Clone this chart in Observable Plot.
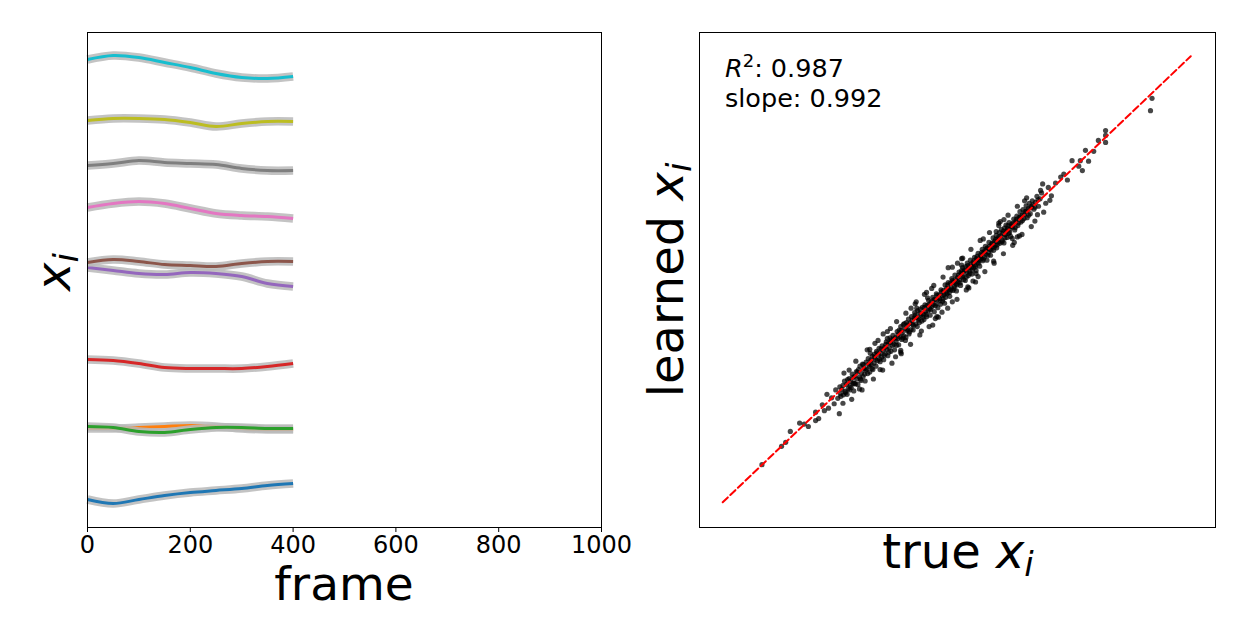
<!DOCTYPE html>
<html>
<head>
<meta charset="utf-8">
<script src="https://cdn.jsdelivr.net/npm/d3@7"></script>
<script src="https://cdn.jsdelivr.net/npm/@observablehq/plot@0.6"></script>
<style>
  html, body { margin: 0; padding: 0; background: #fff; }
  #wrap { position: relative; width: 1247px; height: 644px; overflow: hidden; background: #fff; font-family: "DejaVu Sans", sans-serif; }
  #wrap svg { position: absolute; top: 0; }
</style>
</head>
<body>
<div id="wrap"></div>
<script>
// ---------- Left panel data: 10 traces vs frame ----------
const frames = [0, 50, 100, 150, 200, 250, 300, 350, 400];
const xTicks = [0, 200, 400, 600, 800, 1000];

const blueVals   = [28, 24, 28, 32, 35, 37, 39, 42, 44];
const orangeVals = [99, 99, 100, 101, 102, 101, 99, 98, 98];
const greenVals  = [101, 100, 96, 95, 98, 100, 100, 99, 99];
const redVals    = [168, 167, 164, 160, 159, 159, 159, 161, 164];
const purpleVals = [260, 257, 254, 253, 255, 254, 251, 244, 241];
const brownVals  = [265, 268, 266, 263, 262, 261, 264, 266, 266];
const pinkVals   = [320, 324, 326, 324, 319, 314, 312, 311, 309];
const grayVals   = [362, 364, 367, 365, 364, 363, 359, 357, 357];
const oliveVals  = [407, 409, 409, 408, 405, 401, 404, 406, 406];
const cyanVals   = [468, 472, 470, 465, 460, 454, 450, 449, 451];

const seriesColors = ["#1f77b4", "#ff7f0e", "#2ca02c", "#d62728", "#9467bd",
                      "#8c564b", "#e377c2", "#7f7f7f", "#bcbd22", "#17becf"];
const seriesValues = [blueVals, orangeVals, greenVals, redVals, purpleVals,
                      brownVals, pinkVals, grayVals, oliveVals, cyanVals];

// ---------- Right panel data: learned vs true ----------
const fitLine = [[4.5, 5.1], [95.2, 95.2]];
const annotR2 = "0.987";
const annotSlope = "0.992";

const scatterPoints = [
  [12.1,12.7],[16.7,17.2],[17.6,19.4],[19.4,21.1],[21.1,20.4],[22.5,21.6],[22.5,23.3],[27.1,23.0],[27.8,25.1],[23.8,24.8],
  [24.7,26.9],[15.9,16.4],[20.3,20.9],[23.1,22.0],[24.2,23.6],[25.0,24.1],[25.6,26.2],[26.1,25.0],[26.4,27.8],[26.8,26.1],
  [27.2,28.4],[27.4,26.5],[27.6,27.9],[27.9,26.8],[28.1,29.6],[28.3,27.2],[28.5,28.9],[28.6,26.9],[28.8,28.0],[29.0,30.1],
  [29.1,27.8],[29.3,29.5],[29.4,28.3],[29.6,31.0],[29.8,29.2],[29.9,27.6],[30.1,30.6],[30.2,29.0],[30.4,31.5],[30.5,30.0],
  [30.7,28.9],[30.8,31.9],[31.0,30.4],[31.1,32.6],[31.3,29.7],[31.4,31.2],[31.6,33.0],[31.7,30.5],[31.9,32.1],[32.0,31.0],
  [32.1,29.6],[32.3,33.4],[32.4,32.0],[32.6,31.1],[32.7,34.1],[32.9,32.6],[33.0,31.4],[33.2,33.8],[33.3,32.9],[33.5,34.6],
  [33.6,31.9],[33.8,33.2],[33.9,35.0],[34.1,34.0],[34.2,32.6],[34.4,35.3],[34.5,33.7],[34.7,34.9],[34.8,36.2],[35.0,33.5],
  [35.1,35.2],[35.3,34.4],[35.4,36.7],[35.6,35.8],[35.7,33.9],[35.9,36.4],[36.0,35.1],[36.2,37.5],[36.3,36.0],[36.5,34.7],
  [36.6,37.2],[36.8,36.3],[36.9,38.3],[37.1,35.6],[37.2,37.9],[37.4,36.8],[37.5,38.8],[37.7,37.0],[37.8,35.9],[38.0,38.4],
  [38.1,37.6],[38.3,39.6],[38.4,38.2],[38.6,36.9],[38.7,39.9],[38.9,38.5],[39.0,40.6],[39.2,38.0],[39.3,39.4],[39.5,41.0],
  [39.6,38.7],[39.8,40.2],[39.9,37.8],[40.1,41.4],[40.2,39.8],[40.4,40.9],[40.5,42.1],[40.7,39.5],[40.8,41.3],[41.0,40.0],
  [41.1,42.6],[41.3,41.0],[41.4,39.9],[41.6,42.3],[41.7,43.4],[41.9,41.1],[42.0,42.5],[42.2,40.6],[42.3,43.8],[42.5,42.2],
  [42.6,41.4],[42.8,44.1],[42.9,42.9],[43.1,41.7],[43.2,44.5],[43.4,43.1],[43.5,42.0],[43.7,45.0],[43.8,43.6],[44.0,42.6],
  [44.1,44.9],[44.3,43.8],[44.4,45.9],[44.6,44.2],[44.7,42.9],[44.9,45.6],[45.0,44.6],[45.2,46.5],[45.3,45.0],[45.5,43.6],
  [45.6,46.1],[45.8,45.2],[45.9,47.2],[46.1,46.0],[46.2,44.4],[46.4,47.0],[46.5,46.3],[46.7,45.1],[46.8,48.0],[47.0,46.8],
  [47.1,45.7],[47.3,47.9],[47.4,47.0],[47.6,49.0],[47.7,46.5],[47.9,48.3],[48.0,47.2],[48.2,49.5],[48.3,48.1],[48.5,46.7],
  [48.6,49.3],[48.8,48.4],[48.9,50.3],[49.1,47.9],[49.2,49.6],[49.4,48.7],[49.5,51.0],[49.7,49.2],[49.8,47.8],[50.0,50.5],
  [50.1,49.6],[50.3,51.6],[50.4,50.0],[50.6,48.9],[50.7,51.4],[50.9,50.6],[51.0,52.5],[51.2,50.1],[51.3,51.8],[51.5,49.9],
  [51.6,52.7],[51.8,51.5],[51.9,53.4],[52.1,50.9],[52.2,52.4],[52.4,51.3],[52.5,54.0],[52.7,52.6],[52.8,51.2],[53.0,53.5],
  [53.1,52.5],[53.3,54.6],[53.4,53.0],[53.6,51.9],[53.7,54.3],[53.9,53.6],[54.0,55.4],[54.2,54.0],[54.3,52.8],[54.5,55.1],
  [54.6,54.3],[54.8,56.2],[54.9,53.9],[55.1,55.6],[55.2,54.6],[55.4,56.8],[55.5,55.2],[55.7,54.0],[55.8,56.5],[56.0,55.6],
  [56.1,57.6],[56.3,56.2],[56.4,55.0],[56.6,57.3],[56.7,56.7],[56.9,58.5],[57.0,56.0],[57.2,57.8],[57.3,57.0],[57.5,59.0],
  [57.6,56.5],[57.8,58.3],[57.9,57.7],[58.1,59.6],[58.2,57.4],[58.4,58.9],[58.5,60.2],[58.7,58.0],[58.8,59.4],[59.0,57.5],
  [59.1,60.5],[59.3,59.2],[59.4,61.1],[59.6,58.6],[59.7,60.4],[59.9,59.4],[60.0,61.6],[60.2,60.3],[60.3,58.8],[60.5,61.3],
  [60.7,60.7],[60.9,62.3],[61.1,60.1],[61.3,61.8],[61.5,62.9],[61.7,61.0],[61.9,62.6],[62.1,63.8],[62.3,61.7],[62.5,63.1],
  [62.7,64.2],[62.9,62.4],[63.1,63.8],[63.3,65.0],[63.5,62.6],[63.7,64.4],[63.9,65.5],[64.1,63.4],[64.3,64.9],[64.5,66.0],
  [64.8,64.3],[65.1,65.7],[65.4,66.9],[65.7,64.9],[66.0,66.4],[66.3,67.6],[65.5,63.2],[61.6,58.7],[58.3,61.8],[45.2,40.9],
  [66.7,63.7],[67.1,65.5],[66.1,68.1],[67.6,68.7],[69.0,69.6],[70.6,71.4],[71.3,70.2],[72.2,74.1],[73.8,74.1],[74.2,72.1],
  [73.5,73.0],[75.4,74.0],[74.8,76.2],[76.4,76.0],[77.3,78.2],[78.7,77.8],[78.7,79.2],[78.7,80.2],[87.7,86.7],[87.4,84.2],
  [68.2,67.0],[70.0,70.8],[67.9,66.1],[52.2,48.4],[39.0,35.4],[45.7,42.2],[48.2,52.5],[35.6,39.1],
  [27.3,27.0],[27.8,28.7],[28.2,27.5],[28.7,29.9],[29.2,28.6],[29.7,30.3],[30.0,29.1],[30.6,31.4],[31.2,30.0],[31.8,32.9],
  [32.2,31.8],[32.8,33.0],[33.4,32.1],[33.9,34.4],[34.3,35.6],[34.9,34.0],[35.2,36.1],[35.8,34.8],[36.1,37.0],[36.7,35.4],
  [37.0,37.4],[37.6,38.1],[38.2,36.8],[38.5,39.0],[39.1,39.8],[39.4,38.3],[39.7,41.2],[40.3,40.0],[40.6,39.1],[41.2,41.8],
  [41.5,40.8],[41.8,42.9],[42.4,41.9],[42.7,43.3],[43.3,42.5],[43.6,44.4],[43.9,43.0],[44.5,45.1],[44.8,44.0],[45.4,46.0],
  [45.7,44.8],[46.0,46.9],[46.6,45.8],[46.9,47.6],[47.2,46.2],[47.8,47.4],[48.1,49.0],[48.4,47.5],[48.7,48.0],[49.0,49.9],
  [49.3,48.2],[49.6,50.1],[49.9,49.0],[50.2,51.0],[50.5,49.4],[50.8,51.9],[51.1,50.8],[51.4,52.0],[51.7,50.6],[52.0,52.9],
  [52.3,51.8],[52.6,53.2],[52.9,52.0],[53.2,53.9],[53.5,52.7],[53.8,54.8],[54.1,53.4],[54.4,54.6],[54.7,55.6],[55.0,54.2],
  [55.3,55.9],[55.6,56.3],[55.9,55.0],[56.2,56.8],[56.5,56.0],[56.8,57.5],[57.1,56.6],[57.4,58.2],[57.7,57.1],[58.0,58.7],
  [58.6,57.7],[58.9,59.9],[59.2,58.5],[59.5,60.0],[59.8,61.0],[60.1,59.6],[60.4,60.9],[60.8,61.5],[61.2,60.6],[61.4,62.2],
  [61.8,61.5],[62.2,62.8],[62.6,62.0],[63.0,63.3],[63.4,64.0],[63.8,63.1],[64.2,64.6],[64.6,65.2],[65.0,64.7],[65.6,66.2],
  [36.4,38.2],[40.0,38.4],[44.2,46.4],[47.5,45.3],[50.8,53.0],[53.6,51.3],[57.5,59.8],[60.6,58.4],[42.1,44.3],[33.1,35.2],
  [28.0,31.2],[29.5,25.9],[30.3,33.6],[31.5,27.8],[32.5,35.9],[33.7,30.0],[34.6,37.8],[35.5,31.8],[36.4,39.6],[37.3,33.2],
  [38.2,41.6],[39.1,35.1],[40.0,43.3],[40.9,37.0],[41.8,45.2],[42.7,38.9],[43.6,47.1],[44.5,40.6],[45.4,48.9],[46.3,42.5],
  [47.2,50.6],[48.1,44.3],[49.0,52.6],[49.9,46.1],[50.8,54.3],[51.7,48.0],[52.6,56.2],[53.5,49.6],[54.4,58.0],[55.3,51.7],
  [56.2,59.6],[57.1,53.4],[58.0,61.5],[58.9,55.3],[59.8,63.1],[60.7,57.0],[61.6,64.9],[62.5,59.2],[63.4,66.6],[64.3,60.8],
  [29.0,31.8],[31.0,28.0],[33.0,36.0],[35.0,31.9],[37.0,40.2],[39.0,35.8],[41.0,44.3],[43.0,39.7],[45.0,48.3],[47.0,43.5],
  [49.0,45.6],[51.0,54.4],[53.0,49.8],[55.0,58.3],[57.0,53.8],[59.0,62.2],[61.0,57.6],[63.0,66.0],[65.0,61.9],[66.5,69.4],
  [34.0,37.2],[38.0,34.5],[42.0,45.6],[46.0,42.6],[50.0,53.4],[54.0,50.7],[58.0,61.0],[62.0,58.9],[44.0,47.5],[52.0,48.6]
];

// ---------- Build ----------
const wrap = document.getElementById("wrap");
const FONT = "DejaVu Sans";

const traceRows = seriesValues.flatMap((vals, i) =>
  frames.map((f, j) => ({frame: f, value: vals[j], id: i})));

const traceMarks = seriesValues.flatMap((vals, i) => {
  const rows = traceRows.filter(d => d.id === i);
  return [
    Plot.line(rows, {x: "frame", y: "value", stroke: "#b8b8b8", strokeOpacity: 0.85,
      strokeWidth: 8.5, curve: "catmull-rom", strokeLinecap: "butt"}),
    Plot.line(rows, {x: "frame", y: "value", stroke: seriesColors[i],
      strokeWidth: 3, curve: "catmull-rom", strokeLinecap: "butt"})
  ];
});

const left = Plot.plot({
  width: 640, height: 644,
  marginLeft: 87, marginRight: 39, marginTop: 32, marginBottom: 117,
  style: {fontFamily: FONT, color: "black", background: "transparent", overflow: "visible"},
  x: {domain: [0, 1000], label: null},
  y: {domain: [0, 495], axis: null},
  marks: [
    ...traceMarks,
    Plot.frame({stroke: "black", strokeWidth: 1}),
    Plot.axisX({ticks: xTicks, tickSize: 5, tickPadding: 3, fontSize: 24,
      tickFormat: d => String(d), label: null})
  ]
});
left.style.left = "0px";
wrap.appendChild(left);

const right = Plot.plot({
  width: 635, height: 644,
  marginLeft: 87, marginRight: 32, marginTop: 32, marginBottom: 117,
  style: {fontFamily: FONT, color: "black", background: "transparent", overflow: "visible"},
  x: {domain: [0, 100], axis: null},
  y: {domain: [0, 100], axis: null},
  marks: [
    Plot.dot(scatterPoints, {x: d => d[0], y: d => d[1], r: 2.6, fill: "black",
      fillOpacity: 0.72, stroke: "none"}),
    Plot.line(fitLine, {x: d => d[0], y: d => d[1], stroke: "red", strokeWidth: 2,
      strokeDasharray: "7,3.5"}),
    Plot.frame({stroke: "black", strokeWidth: 1})
  ]
});
right.style.left = "612px";
wrap.appendChild(right);

// ---------- Text labels (real SVG text with italic / sub / sup) ----------
function subLabel(svg, x, y, rotate, main) {
  const t = d3.select(svg).append("text")
    .attr("transform", `translate(${x},${y})` + (rotate ? " rotate(-90)" : ""))
    .attr("text-anchor", "middle")
    .attr("font-family", FONT)
    .attr("font-size", 48)
    .attr("fill", "black");
  if (main) t.append("tspan").text(main + " ");
  t.append("tspan").attr("font-style", "italic").text("x");
  t.append("tspan").attr("font-style", "italic").attr("font-size", 34).attr("dy", 8).text("i");
  return t;
}

// left: "frame" and x_i
d3.select(left).append("text")
  .attr("x", 344).attr("y", 600)
  .attr("text-anchor", "middle").attr("font-family", FONT)
  .attr("font-size", 47).attr("fill", "black").text("frame");
subLabel(left, 70, 272, true, null);

// right: "true x_i", "learned x_i"
subLabel(right, 346, 568, false, "true");
subLabel(right, 71, 280, true, "learned");

// annotations
const ann = d3.select(right).append("g")
  .attr("text-anchor", "start")
  .attr("font-family", FONT).attr("font-size", 25.5).attr("fill", "black");
const l1 = ann.append("text").attr("x", 113).attr("y", 77).attr("text-anchor", "start");
l1.append("tspan").attr("font-style", "italic").text("R");
l1.append("tspan").attr("font-size", 18).attr("dy", -10).text("2");
l1.append("tspan").attr("dy", 10).text(": " + annotR2);
ann.append("text").attr("x", 113).attr("y", 107).attr("text-anchor", "start").text("slope: " + annotSlope);
</script>
</body>
</html>
